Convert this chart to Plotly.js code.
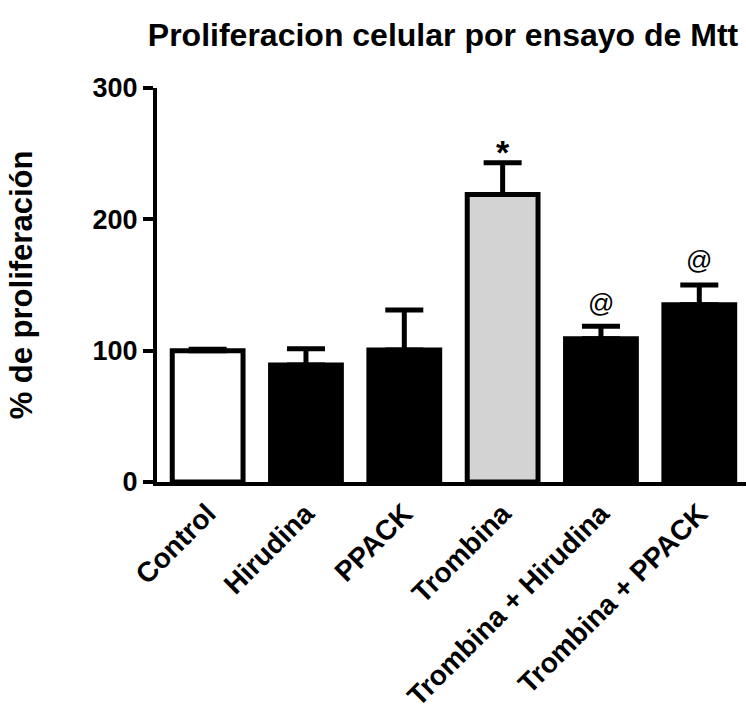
<!DOCTYPE html>
<html>
<head>
<meta charset="utf-8">
<script src="https://cdn.plot.ly/plotly-3.0.1.min.js"></script>
<style>html,body{margin:0;padding:0;background:#fff;}#chart{width:746px;height:713px;}</style>
</head>
<body>
<div id="chart"></div>
<script>
const categories = ["Control", "Hirudina", "PPACK", "Trombina", "Trombina + Hirudina", "Trombina + PPACK"];
const values = [100, 89, 100.5, 219, 109, 135];
const errorsUp = [1, 12.5, 30.5, 24, 9.5, 15];
const barColors = ["#ffffff", "#000000", "#000000", "#d3d3d3", "#000000", "#000000"];
const marks = ["", "", "", "*", "@", "@"];
const markY = [null, null, null, 256, 136, 169];

const FONT = "Liberation Sans, Arial, sans-serif";

const annotations = [];
categories.forEach((c, i) => {
  if (marks[i]) {
    const isStar = marks[i] === "*";
    annotations.push({
      x: i, y: markY[i], xref: "x", yref: "y", text: marks[i], showarrow: false,
      yshift: isStar ? -6 : 0,
      font: {family: FONT, size: isStar ? 34 : 26, weight: isStar ? "bold" : "normal", color: "#000"}
    });
  }
});

const trace = {
  type: "bar",
  x: categories,
  y: values,
  marker: {color: barColors, line: {color: "#000", width: 5}},
  error_y: {type: "data", symmetric: false, array: errorsUp, arrayminus: values.map(() => 0),
            color: "#000", thickness: 5, width: 19},
  hoverinfo: "skip"
};

const layout = {
  width: 746, height: 713,
  margin: {l: 157, r: 0, t: 88, b: 231, pad: 0},
  paper_bgcolor: "#fff", plot_bgcolor: "#fff",
  showlegend: false,
  bargap: 0.28,
  title: {text: "Proliferacion celular por ensayo de Mtt", x: 443/746, xanchor: "center", y: 1 - 35/713, yanchor: "middle",
          font: {family: FONT, size: 32, weight: "bold", color: "#000"}},
  xaxis: {type: "category", range: [-0.515, 5.475], showgrid: false, zeroline: false,
          showline: true, linecolor: "#000", linewidth: 4, ticks: "", tickangle: -45,
          tickfont: {family: FONT, size: 28, weight: "bold", color: "#000"}},
  yaxis: {range: [0, 300], dtick: 100, tick0: 0, showgrid: false, zeroline: false,
          showline: true, linecolor: "#000", linewidth: 4, ticks: "outside", ticklen: 10, tickwidth: 4, tickcolor: "#000",
          tickfont: {family: FONT, size: 27, weight: "bold", color: "#000"},
          title: {text: "% de proliferación", standoff: 52, font: {family: FONT, size: 31, weight: "bold", color: "#000"}}},
  annotations: annotations
};

Plotly.newPlot("chart", [trace], layout, {staticPlot: true, displayModeBar: false});
</script>
</body>
</html>
